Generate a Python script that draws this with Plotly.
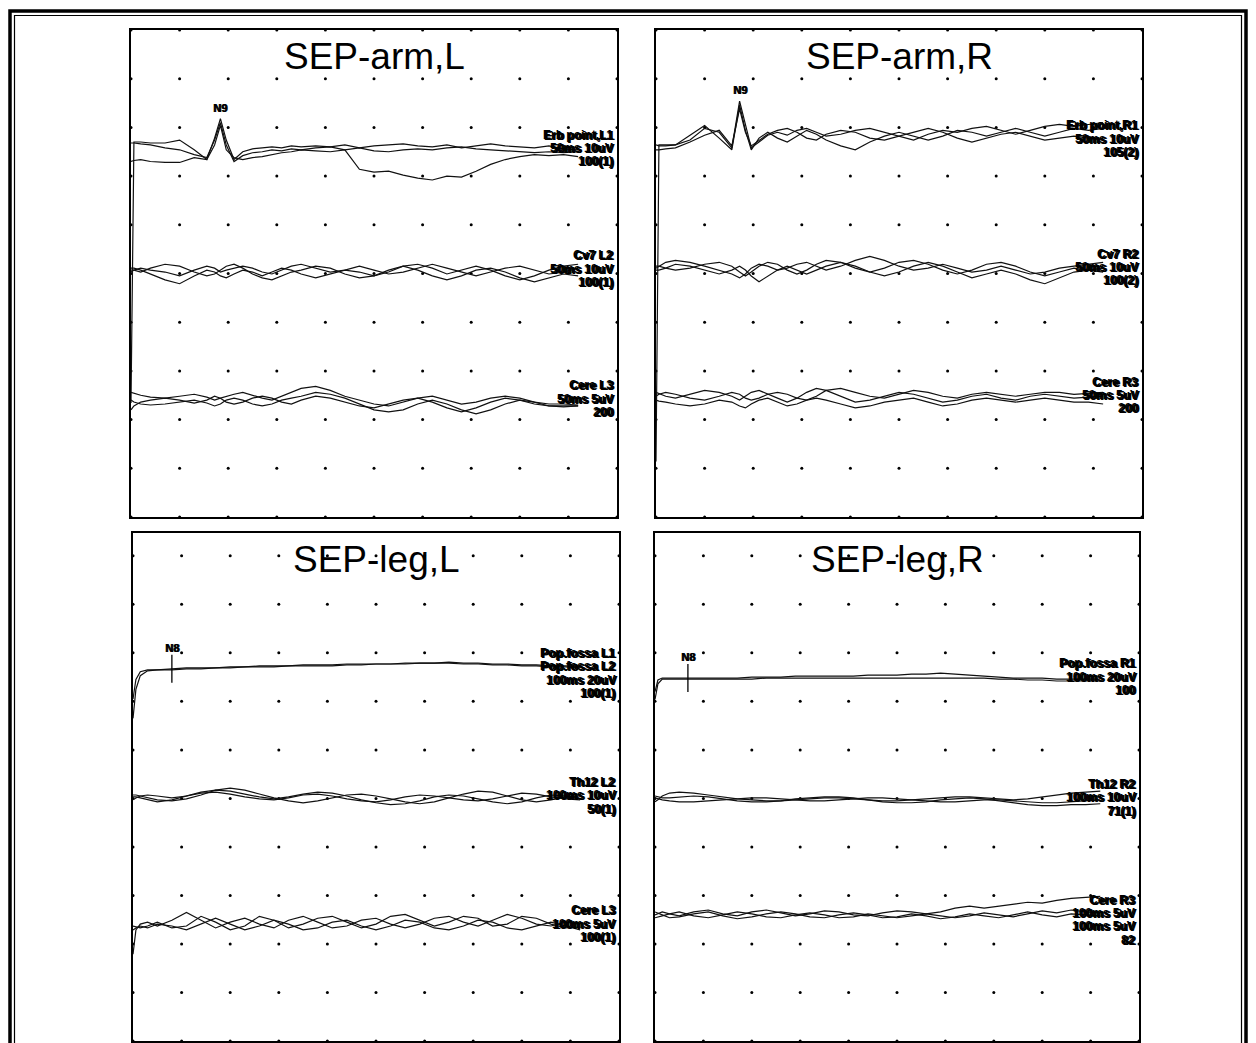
import numpy as np
import plotly.graph_objects as go

# ---------------- DATA (time in ms, amplitude in uV, upward positive) ----------------
ARM_T_MS = [0, 0.3, 1.0, 2.0, 3.5, 5.0, 6.5, 7.8, 8.6, 9.2, 9.8, 10.6, 11.5, 12.5, 13.5, 14.5,
            15.5, 16.5, 17.5, 19.0, 20.5, 22.0, 23.5, 25.0, 26.5, 28.0, 29.5, 31.0, 32.5, 34.0,
            35.5, 37.0, 38.5, 40.0, 41.5, 43.0, 44.5, 46.0]
LEG_T_MS = [0, 0.6, 1.5, 3, 5, 8, 11, 14, 17, 20, 23, 26, 29, 32, 35, 38, 41, 44, 47, 50, 53, 56,
            59, 62, 65, 68, 71, 74, 77, 80, 83, 86, 89, 92]

# SEP-arm, L
ARM_L_ERB = [
    [-52, 1.6, 1.6, 1.4, 1.4, 2.0, 0, -2.0, 2.4, 6.4, 2.0, -2.0, -0.4, 0.2, 0.4, 0.6, 0.4, 0.8, 0.6,
     0.8, 0.6, 1.0, 0.4, 0.8, 1.0, 1.2, 0.8, 0.6, 1.0, 0.4, 0.8, 1.2, 0.8, 0.6, 0.4, 0.8, 0.2, 0],
    [1.4, 1.4, 1.2, 1.0, 0.4, 0, -1.0, -1.6, 2.0, 5.6, 1.0, -2.4, -1.2, -0.6, -0.4, 0, -0.2, 0.2, 0,
     0.4, 0.6, 0, -4.0, -4.6, -4.4, -5.2, -5.8, -6.2, -5.4, -5.6, -4.4, -3.0, -2.0, -1.4, -1.0, -1.2, -1.0, -1.4],
    [-2.4, -2.2, -2.0, -2.4, -2.6, -2.6, -1.6, -2.0, 1.0, 5.0, 0, -1.6, -2.0, -1.6, -1.4, -1.0, -0.6, -0.4, 0,
     -0.2, -0.4, 0, 0.4, -0.2, -0.4, 0, 0.2, 0, 0.4, 0.6, 0.2, 0, -0.2, -0.4, -0.6, -0.4, -0.6, -0.4],
]
ARM_L_CV7 = [
    [-0.4, 0, 0.4, 0, -0.4, -1.2, 0, 0.8, 0.4, -0.4, 0, 0.4, 0.8, 0.4, -0.4, -0.8, 0, 0.8, 1.2, 0.4,
     -0.4, 0, 0.8, 0, -0.8, -0.4, 0.4, 1.2, 0.4, -0.4, -1.2, -0.4, 0.4, 0.8, 0, -0.8, -0.4, 0.4],
    [0.4, 0.4, 0, -0.8, -2.0, -2.8, -1.2, 0, -0.4, -1.2, -1.6, -0.8, 0, -0.4, -1.2, -0.4, 0.4, 0, -0.8, -1.6,
     -0.8, 0, -0.4, -1.2, -0.4, 0.8, 0, -1.2, -2.0, -1.2, 0, 0.4, -0.4, -1.6, -2.4, -1.6, -0.8, -1.2],
    [0, 0, -0.4, 0.4, 1.2, 0.8, -0.4, -1.2, -0.8, 0, 0.8, 1.2, 0.4, -0.8, -1.6, -2.0, -1.2, -0.4, 0, 0.8,
     0.4, -0.8, -1.6, -1.2, 0, 0.8, 1.2, 0.4, -0.8, 0, 0.8, 0, -1.2, -2.0, -1.2, 0, 0.8, 1.2],
]
ARM_L_CERE = [
    [0.8, 0.7, 0.5, 0.3, 0.2, 0.4, 0.6, 0.3, 0, 0.2, 0.4, 0.6, 0.8, 0.5, 0.2, 0, 0.4, 0.8, 1.2, 1.4,
     1.0, 0.4, 0, -0.4, -0.6, -0.2, 0.2, 0.4, 0, -0.4, -0.2, 0.2, 0.4, 0.2, -0.2, -0.4, -0.4, -0.5],
    [0, -0.2, -0.4, -0.5, -0.4, -0.2, 0, -0.3, -0.6, -0.4, 0, 0.2, 0, -0.4, -0.6, -0.4, 0, 0.2, 0.4, 0.8,
     0.6, 0.2, -0.4, -1.0, -1.2, -1.0, -0.4, 0, -0.4, -1.0, -1.4, -1.0, -0.4, 0, -0.2, -0.6, -0.6, -0.6],
    [-1.0, -0.6, -0.2, 0, 0.2, 0, -0.3, 0, 0.4, 0.2, -0.2, -0.4, -0.2, 0.2, 0.4, 0.2, -0.2, -0.4, 0, 0.4,
     0.2, -0.2, -0.6, -0.8, -0.4, 0, 0.2, -0.2, -0.8, -1.2, -0.8, -0.2, 0.2, 0, -0.4, -0.6, -0.7, -0.6],
]
# SEP-arm, R
ARM_R_ERB = [
    [-66, -1.0, -1.0, -1.0, 0, 2.4, 1.6, -1.6, 8.0, 3.0, -1.6, -0.4, 1.0, 1.6, 1.0, 2.0, 2.4, 1.6, 0.8, 1.2,
     2.0, 2.4, 1.6, 0.8, 0, 1.2, 2.0, 1.6, 2.4, 2.8, 2.0, 1.2, 2.0, 2.8, 3.2, 2.8, 3.2, 3.6],
    [-1.0, -1.2, -1.2, -1.0, 1.0, 3.0, 0.4, -2.0, 7.2, 2.0, -2.0, 0.4, 1.6, 0.4, -0.4, 0.8, 2.0, 1.2, 0, -1.2,
     -2.0, -0.4, 0.8, 1.6, 0.8, 0, 0.8, 2.0, 1.6, 0.8, 1.6, 2.4, 1.6, 0.8, 1.6, 2.4, 2.0, 2.4],
    [-2.0, -2.0, -1.8, -1.6, -0.4, 1.0, 2.0, -1.2, 6.4, 1.6, -1.2, 0, 1.2, 2.0, 2.4, 1.6, 0.4, 0, 1.2, 2.0,
     1.6, 0.4, 0, 0.8, 1.6, 2.4, 1.6, 0.4, -0.4, 0.4, 1.2, 1.6, 0.8, 0, 0.4, 0.8, 0.4, 0],
]
ARM_R_CV7 = [
    [0, 0.4, 1.2, 1.6, 1.2, 0.4, -0.4, -1.2, -2.0, -1.2, 0, 0.8, 0.4, -0.4, 0, 0.8, 1.2, 0.4, -0.4, 0.4,
     1.6, 2.4, 1.6, 0.4, -0.4, 0, 0.8, 0, -0.8, -0.4, 0.4, -0.4, -1.2, -0.8, 0, 0.4, 0.8, 1.2],
    [-0.4, -0.4, 0, 0.8, 0.4, -0.4, -1.2, -0.4, 0.4, -0.4, -1.6, -2.8, -1.6, -0.4, 0.4, -0.4, -1.2, -0.4, 0.4, 1.2,
     0.4, -0.8, -1.6, -0.8, 0.4, 1.2, 0.4, -0.8, -2.0, -1.2, -0.4, -1.2, -2.4, -3.2, -2.0, -0.8, -0.4, 0],
    [0.4, 0.4, 0, -0.4, 0, 0.8, 1.2, 0.4, -0.8, -1.6, -0.8, 0.4, 1.2, 0.8, -0.4, -1.2, -0.4, 0.8, 1.6, 1.2,
     0, -0.8, 0, 1.2, 1.6, 0.8, -0.4, -1.2, -0.4, 0.8, 1.2, 0.4, -0.8, -1.6, -0.8, 0, -0.4, -0.8],
]
ARM_R_CERE = [
    [0, 0.2, 0.4, 0.2, -0.2, -0.4, 0, 0.4, 0.2, -0.2, -0.4, -0.2, 0.2, 0.4, 0.2, -0.2, -0.4, 0, 0.6, 0.8,
     0.4, 0, -0.2, 0.2, 0.6, 0.4, 0, -0.2, 0.2, 0.4, 0.2, 0, 0.2, 0.4, 0.4, 0.2, 0.3, 0.4],
    [-0.4, -0.5, -0.6, -0.8, -1.0, -0.8, -0.4, -0.6, -1.0, -1.2, -0.8, -0.4, -0.2, -0.6, -1.0, -0.8, -0.4, -0.2, -0.4, -0.8,
     -1.2, -1.0, -0.6, -0.4, -0.2, -0.6, -1.0, -0.8, -0.4, -0.2, -0.4, -0.6, -0.4, -0.2, -0.4, -0.6, -0.6, -0.8],
    [0.4, 0.3, 0, -0.2, 0.2, 0.6, 0.4, 0, -0.4, 0, 0.4, 0.6, 0.2, -0.2, -0.6, -0.2, 0.4, 0.8, 0.6, 0,
     -0.6, -0.4, 0, 0.4, 0.2, -0.2, -0.6, -0.4, 0, 0.2, -0.2, -0.4, 0, 0.2, 0, -0.2, -0.1, 0],
]
# SEP-leg, L
LEG_L_POP = [
    [-12.8, -4.8, -1.6, -0.8, -0.8, -0.4, 0, 0, 0, 0.4, 0.4, 0.8, 0.8, 0.8, 1.2, 1.2, 1.2, 1.6, 1.6,
     1.6, 1.6, 2.0, 2.0, 2.0, 2.0, 1.6, 1.6, 1.2, 1.2, 0.8, 0.8, 0.4, 0.4, 0],
    [-20.8, -8.8, -3.2, -1.2, -0.8, -0.8, -0.4, -0.4, 0, 0, 0.4, 0.4, 0.4, 0.8, 0.8, 0.8, 0.8, 1.2, 1.2,
     1.6, 1.6, 1.6, 2.0, 2.0, 2.4, 2.0, 2.0, 1.6, 1.6, 1.2, 1.2, 0.8, 0.8, 0.4],
]
LEG_L_TH12 = [
    [-0.6, -0.2, 0.2, 0.4, 0.2, -0.2, 0.2, 0.8, 1.0, 0.6, 0, -0.4, -0.6, -0.2, 0.4, 0.6, 0.2, -0.4, -0.8,
     -1.0, -0.6, 0, 0.4, 0.2, -0.2, -0.6, -0.8, -0.4, 0.2, 0.8, 0.6, 0, -0.4, -0.6],
    [0.4, 0.4, 0.2, -0.2, -0.6, -0.8, -0.4, 0.4, 1.4, 1.8, 1.4, 0.6, -0.2, -0.8, -1.2, -0.8, -0.2, 0.4, 0.6,
     0.2, -0.4, -1.0, -1.4, -1.0, -0.2, 0.6, 1.2, 1.0, 0.2, -0.6, -1.0, -0.6, 0, 0.2],
    [0, 0, -0.2, -0.6, -1.0, -0.6, 0.2, 1.0, 1.4, 1.2, 0.6, 0, -0.4, 0, 0.6, 1.0, 0.8, 0.2, -0.6,
     -1.2, -1.6, -1.4, -0.8, 0, 0.4, 0.2, -0.4, -1.0, -1.4, -1.0, -0.2, 0.4, 0.2, -0.4],
]
LEG_L_CERE = [
    [-3.0, -0.5, 0.1, 0.3, -0.1, 0.5, 1.3, 0.5, -0.3, 0.3, 0.7, 0.1, -0.3, 0.5, 0.9, 0.3, -0.3, -0.1, 0.5,
     0.7, 0.1, -0.3, 0.1, 0.7, 0.9, 0.3, -0.1, 0.5, 1.1, 0.7, 0.1, -0.1, 0.3, 0.1],
    [-0.5, -0.3, -0.1, -0.3, 0.1, -0.1, -0.5, 0.1, 0.7, 0.1, -0.5, -0.1, 0.5, 0.1, -0.5, -0.3, 0.3, 0.5, -0.1,
     -0.5, -0.1, 0.5, 0.3, -0.3, -0.5, -0.1, 0.5, 0.3, -0.3, -0.5, -0.1, 0.3, -0.1, -0.5],
    [-0.1, -0.2, -0.3, -0.1, 0.3, -0.3, -0.1, 0.9, 0.3, -0.5, -0.1, 0.9, 0.5, -0.3, 0.1, 0.7, 0.9, 0.3, -0.3,
     0.1, 0.9, 1.1, 0.5, -0.1, 0.3, 0.9, 0.7, -0.1, 0.1, 0.9, 0.7, 0.1, -0.3, -0.2],
]
# SEP-leg, R
LEG_R_POP = [
    [-5.6, -0.8, 0, 0, 0, 0, 0, 0, 0, 0.4, 0.4, 0.4, 0.8, 0.8, 0.8, 0.8, 0.8, 1.2, 1.2, 1.2,
     1.6, 1.6, 2.0, 1.6, 1.2, 0.8, 0.4, 0, 0, 0, -0.4, -0.4, -0.4, -0.4],
    [-8.8, -2.4, -0.4, -0.4, -0.4, -0.4, -0.4, -0.4, -0.4, -0.4, 0, 0, 0, 0, 0, 0, 0, 0, 0, 0,
     0, 0, 0, 0, 0, 0, -0.4, -0.4, -0.8, -0.8, -1.2, -1.2, -1.2, -1.2],
]
LEG_R_TH12 = [
    [-0.6, -0.2, 0.6, 1.2, 1.4, 1.2, 0.8, 0.4, 0, -0.2, -0.4, -0.4, -0.2, 0, 0.2, 0.2, 0, -0.2, -0.4, -0.4,
     -0.2, 0, 0.2, 0.4, 0.4, 0.2, 0, -0.2, 0, 0.4, 0.8, 1.2, 1.4, 1.6],
    [0.2, 0, -0.2, -0.4, -0.6, -0.6, -0.4, -0.2, 0, 0.2, 0.2, 0, -0.2, -0.4, -0.4, -0.2, 0, 0.2, 0.2, 0,
     -0.2, -0.4, -0.6, -0.6, -0.4, -0.2, -0.2, -0.4, -0.6, -0.8, -0.8, -0.6, -0.4, -0.2],
    [0.6, 0.4, 0.2, 0.2, 0.4, 0.6, 0.4, 0, -0.4, -0.6, -0.6, -0.4, 0, 0.2, 0.4, 0.4, 0.2, -0.2, -0.6, -0.8,
     -0.8, -0.6, -0.2, 0, 0.2, 0, -0.4, -0.8, -1.2, -1.4, -1.4, -1.2, -1.2, -1.0],
]
LEG_R_CERE = [
    [0, 0.1, 0.3, 0.1, -0.1, 0.3, 0.5, 0.1, -0.1, 0.3, 0.5, 0.2, -0.1, 0.1, 0.4, 0.3, 0, -0.1, 0.2, 0.4,
     0.3, 0.1, 0.3, 0.7, 0.9, 0.7, 0.9, 1.1, 1.3, 1.2, 1.5, 1.7, 1.8, 1.9],
    [-0.3, -0.2, -0.1, 0.1, 0.3, -0.1, -0.3, 0, 0.3, 0.1, -0.2, -0.3, 0, 0.2, 0, -0.3, -0.2, 0.1, -0.1, -0.3,
     -0.1, 0.1, -0.1, -0.3, -0.1, 0.2, 0, -0.2, 0.1, 0.4, 0.2, 0.5, 0.3, 0.2],
    [0.3, 0.2, 0, -0.3, -0.2, 0.1, 0.3, -0.1, -0.4, -0.2, 0.1, 0.3, 0.1, -0.2, -0.3, 0, 0.2, 0, -0.3, -0.2,
     0.1, -0.1, -0.4, -0.2, 0.1, -0.1, -0.3, 0, 0.3, 0, -0.2, 0.1, 0, -0.1],
]

# channel labels
ARM_L_LABELS = [["Erb point,L1", "50ms 10uV", "100(1)"], ["Cv7 L2", "50ms 10uV", "100(1)"],
                ["Cere L3", "50ms 5uV", "200"]]
ARM_R_LABELS = [["Erb point,R1", "50ms 10uV", "105(2)"], ["Cv7 R2", "50ms 10uV", "100(2)"],
                ["Cere R3", "50ms 5uV", "200"]]
LEG_L_LABELS = [["Pop.fossa L1", "Pop.fossa L2", "100ms 20uV", "100(1)"], ["Th12 L2", "100ms 10uV", "50(1)"],
                ["Cere L3", "100ms 5uV", "100(1)"]]
LEG_R_LABELS = [["Pop.fossa R1", "100ms 20uV", "100"], ["Th12 R2", "100ms 10uV", "71(1)"],
                ["Cere R3", "100ms 5uV", "100ms 5uV", "82"]]

ARM_SENS = [10, 10, 5]   # uV per division
LEG_SENS = [20, 10, 5]
PEAK_LABELS = ["N9", "N9", "N8", "N8"]
PEAK_MS = [9.2, 8.6, 8.0, 6.8]
TITLES = ["SEP-arm,L", "SEP-arm,R", "SEP-leg,L", "SEP-leg,R"]

# ---------------- LAYOUT (positions / styles) ----------------
W, H = 1256, 1043
PANELS = [
    dict(box=(131, 30, 617, 517), ydivs=10.0, sweep=50, t=ARM_T_MS, offsets=[7.54, 5.07, 2.40],
         groups=[ARM_L_ERB, ARM_L_CV7, ARM_L_CERE], sens=ARM_SENS, labels=ARM_L_LABELS, kind="peak"),
    dict(box=(656, 30, 1142, 517), ydivs=10.0, sweep=50, t=ARM_T_MS, offsets=[7.74, 5.11, 2.48],
         groups=[ARM_R_ERB, ARM_R_CV7, ARM_R_CERE], sens=ARM_SENS, labels=ARM_R_LABELS, kind="peak"),
    dict(box=(133, 533, 619, 1041), ydivs=10.47, sweep=100, t=LEG_T_MS, offsets=[7.69, 5.03, 2.39],
         groups=[LEG_L_POP, LEG_L_TH12, LEG_L_CERE], sens=LEG_SENS, labels=LEG_L_LABELS, kind="tick"),
    dict(box=(655, 533, 1139, 1041), ydivs=10.47, sweep=100, t=LEG_T_MS, offsets=[7.48, 4.99, 2.60],
         groups=[LEG_R_POP, LEG_R_TH12, LEG_R_CERE], sens=LEG_SENS, labels=LEG_R_LABELS, kind="tick"),
]
LABEL_TOP = 0.28
LABEL_STEP = 0.27
LABEL_FONT = dict(family="Liberation Sans Narrow, Liberation Sans, Arial", size=12, color="black")
PEAK_FONT = dict(family="Liberation Sans, Arial", size=11, color="black")
TITLE_FONT = dict(family="Liberation Sans, Arial, sans-serif", size=37, color="black")
AX = dict(showgrid=False, zeroline=False, showticklabels=False, ticks="", showline=True,
          mirror=True, linecolor="black", linewidth=2, fixedrange=True)

fig = go.Figure()
axes = {}
for k, p in enumerate(PANELS, start=1):
    sx = "" if k == 1 else str(k)
    xa, ya = "x" + sx, "y" + sx
    l, t, r, b = p["box"]
    axes["xaxis" + sx] = dict(domain=[l / W, r / W], range=[0, p["sweep"]], anchor=ya, **AX)
    axes["yaxis" + sx] = dict(domain=[1 - b / H, 1 - t / H], range=[0, p["ydivs"]], anchor=xa, **AX)

    # dotted grid
    gx = [j * p["sweep"] / 10 for j in range(11)]
    gy = [j for j in range(11)]
    dx = [a for a in gx for _ in gy]
    dy = [c for _ in gx for c in gy]
    fig.add_trace(go.Scatter(x=dx, y=dy, mode="markers", xaxis=xa, yaxis=ya, cliponaxis=False,
                             marker=dict(size=3, color="black"), hoverinfo="skip", showlegend=False))

    # traces
    for gi, grp in enumerate(p["groups"]):
        off, sens = p["offsets"][gi], p["sens"][gi]
        for tr in grp:
            fig.add_trace(go.Scatter(x=p["t"], y=[off + v / sens for v in tr], mode="lines",
                                     xaxis=xa, yaxis=ya, line=dict(color="#111111", width=1.2),
                                     hoverinfo="skip", showlegend=False))
        for i, lab in enumerate(p["labels"][gi]):
            for xs, ys in ((0, 0), (-1, 0), (-2, 1)):
                fig.add_annotation(xref=xa + " domain", yref=ya, x=1, y=off + LABEL_TOP - i * LABEL_STEP,
                                   xanchor="right", yanchor="middle", xshift=xs, yshift=ys, showarrow=False,
                                   text="<b>%s</b>" % lab, font=LABEL_FONT)

    # peak marker
    pm = PEAK_MS[k - 1]
    off0, sens0 = p["offsets"][0], p["sens"][0]
    if p["kind"] == "peak":
        idx = p["t"].index(pm)
        ypk = off0 + max(tr[idx] for tr in p["groups"][0]) / sens0
        for xs in (0, 1):
            fig.add_annotation(xref=xa, yref=ya, x=pm, y=ypk, yanchor="bottom", yshift=3, xshift=xs,
                               showarrow=False, text="<b>%s</b>" % PEAK_LABELS[k - 1], font=PEAK_FONT)
    else:
        ym = off0 + float(np.interp(pm, p["t"], p["groups"][0][0])) / sens0
        fig.add_trace(go.Scatter(x=[pm], y=[ym], mode="markers", xaxis=xa, yaxis=ya,
                                 marker=dict(symbol="line-ns-open", size=20, color="black",
                                             line=dict(color="black", width=1.3)),
                                 hoverinfo="skip", showlegend=False))
        for xs in (0, 1):
            fig.add_annotation(xref=xa, yref=ya, x=pm, y=ym, yanchor="bottom", yshift=13, xshift=xs,
                               showarrow=False, text="<b>%s</b>" % PEAK_LABELS[k - 1], font=PEAK_FONT)

    # title
    fig.add_annotation(xref=xa + " domain", yref=ya + " domain", x=0.5, y=1, yanchor="top", yshift=-4,
                       showarrow=False, text=TITLES[k - 1], font=TITLE_FONT)

# outer double frame
fig.add_shape(type="rect", xref="paper", yref="paper", x0=10 / W, x1=1246 / W, y0=-0.1, y1=1 - 11 / H,
              line=dict(color="black", width=3.5))
fig.add_shape(type="rect", xref="paper", yref="paper", x0=14.5 / W, x1=1241.5 / W, y0=-0.1, y1=1 - 15.5 / H,
              line=dict(color="black", width=1.2))

fig.update_layout(width=W, height=H, autosize=False, margin=dict(l=0, r=0, t=0, b=0),
                  paper_bgcolor="white", plot_bgcolor="white", showlegend=False, **axes)
fig.write_html("out.html", config={"displayModeBar": False})
